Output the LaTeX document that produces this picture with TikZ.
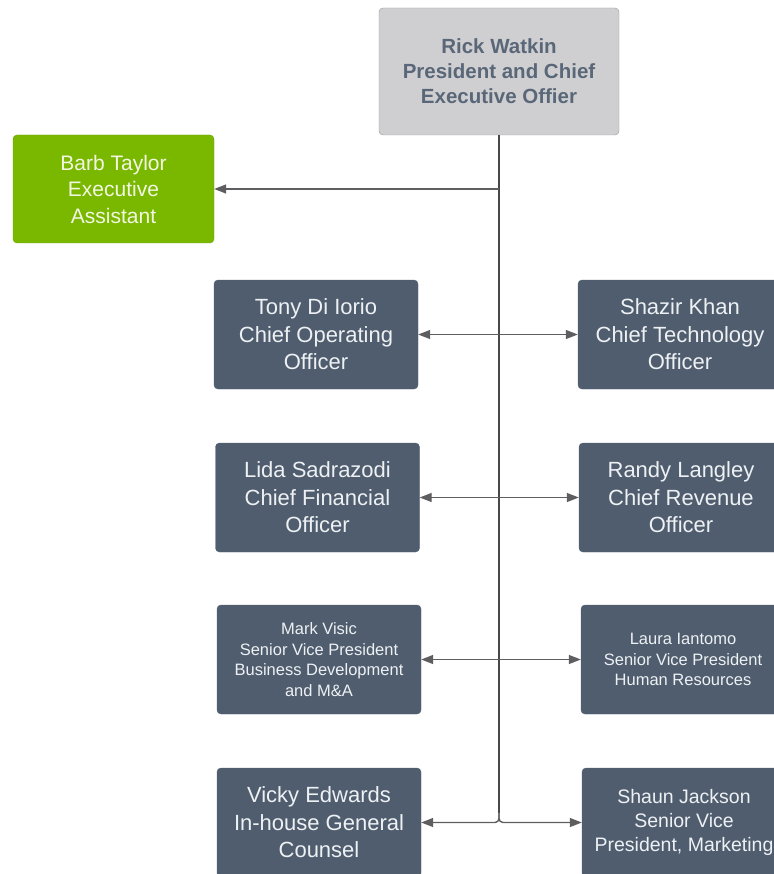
\documentclass[tikz,border=0pt]{standalone}
\usepackage{fontspec}
\setmainfont{Liberation Sans}
\usetikzlibrary{arrows.meta}
\definecolor{slate}{HTML}{4F5D6E}
\definecolor{boxtext}{HTML}{EEF1F4}
\definecolor{ceofill}{HTML}{CFCFD1}
\definecolor{ceoline}{HTML}{9A9A9C}
\definecolor{ceotext}{HTML}{5A6778}
\definecolor{green}{HTML}{7AB800}
\definecolor{greenline}{HTML}{6CA10A}
\definecolor{greentext}{HTML}{F2F7E4}
\definecolor{wire}{HTML}{5E5E60}
\definecolor{trunkc}{HTML}{48484A}
\begin{document}
\begin{tikzpicture}[x=1pt,y=-1pt,
  box/.style={draw=slate, fill=slate, rounded corners=4pt, text=boxtext, align=center,
    inner sep=0pt, minimum width=204pt, minimum height=109pt},
  big/.style={font=\fontsize{22}{27.5}\selectfont},
  small/.style={font=\fontsize{16.5}{20.8}\selectfont},
  mid/.style={font=\fontsize{19.5}{24}\selectfont},
  ceobox/.style={draw=ceoline, fill=ceofill, rounded corners=4pt, text=ceotext, align=center,
    inner sep=0pt, minimum width=240pt, minimum height=127pt,
    font=\fontsize{20.5}{25}\selectfont\bfseries},
  greenbox/.style={draw=greenline, fill=green, rounded corners=4pt, text=greentext, align=center,
    inner sep=0pt, minimum width=201pt, minimum height=108pt,
    font=\fontsize{21}{26.5}\selectfont},
  wireline/.style={draw=wire, line width=1.4pt, -{Triangle[length=12pt,width=9pt]}},
  trunkline/.style={draw=trunkc, line width=1.6pt}
]
\useasboundingbox (0,0) rectangle (773,874);

\node[ceobox] (ceo) at (499,71.5) {Rick Watkin\\President and Chief\\Executive Offier};
\node[greenbox] (barb) at (113.5,189) {Barb Taylor\\Executive\\Assistant};

\node[box,big] (tony) at (316,334.5) {Tony Di Iorio\\Chief Operating\\Officer};
\node[box,big] (shazir) at (680,334.5) {Shazir Khan\\Chief Technology\\Officer};
\node[box,big] (lida) at (317.5,497.5) {Lida Sadrazodi\\Chief Financial\\Officer};
\node[box,big] (randy) at (681,497.5) {Randy Langley\\Chief Revenue\\Officer};
\node[box,small] (mark) at (319,659.5) {Mark Visic\\Senior Vice President\\Business Development\\and M\&A};
\node[box,small] (laura) at (683,659.5) {Laura Iantomo\\Senior Vice President\\Human Resources};
\node[box,big] (vicky) at (319,822.5) {Vicky Edwards\\In-house General\\Counsel};
\node[box,mid] (shaun) at (684,822.5) {Shaun Jackson\\Senior Vice\\President, Marketing};

% trunk
\coordinate (tb) at (ceo.south |- barb.east);
\coordinate (t1) at (ceo.south |- tony.east);
\coordinate (t2) at (ceo.south |- lida.east);
\coordinate (t3) at (ceo.south |- mark.east);
\coordinate (t4) at (ceo.south |- vicky.east);
\coordinate (t4a) at ([yshift=10pt]t4);

\draw[trunkline] (ceo.south) -- (t4a);

\draw[wireline] (tb) -- (barb.east);
\draw[wireline] (t1) -- (tony.east);
\draw[wireline] (t1) -- (shazir.west);
\draw[wireline] (t2) -- (lida.east);
\draw[wireline] (t2) -- (randy.west);
\draw[wireline] (t3) -- (mark.east);
\draw[wireline] (t3) -- (laura.west);
\draw[wireline, rounded corners=4pt] (t4a) -- (t4) -- (vicky.east);
\draw[wireline, rounded corners=4pt] (t4a) -- (t4) -- (shaun.west);
\end{tikzpicture}
\end{document}
